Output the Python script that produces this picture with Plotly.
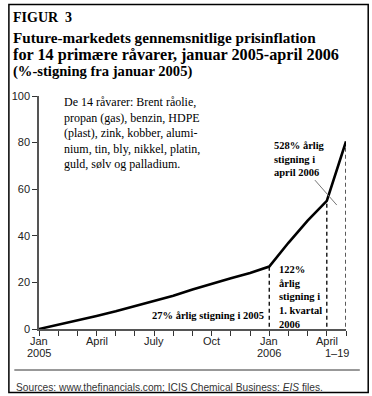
import plotly.graph_objects as go

# ---- data (months since Jan 2005) ----
months = [0, 1, 2, 3, 4, 5, 6, 7, 8, 9, 10, 11, 12, 13, 14, 15, 16]
values = [0, 1.8, 3.8, 5.6, 7.6, 9.8, 12.0, 14.3, 17.0, 19.5, 21.8, 24.0, 26.8, 37.0, 46.5, 55.0, 80.5]
marker_months = [12, 15, 16]          # dashed reference lines
tick_months = list(range(0, 17))
label_months = [0, 3, 6, 9, 12, 15]
label_top = ["Jan", "April", "July", "Oct", "Jan", "April"]
label_bottom = ["2005", "", "", "", "2006", ""]
y_ticks = [0, 20, 40, 60, 80, 100]

W, H = 372, 396
L, R, T, B = 35, 26, 96, 67
PW, PH = W - L - R, H - T - B

def px(x):
    return (x - L) / PW

def py(y):
    return (H - B - y) / PH

SERIF = "Liberation Serif"
SANS = "Liberation Sans"

fig = go.Figure()
fig.add_trace(go.Scatter(x=months, y=values, mode="lines",
                         line=dict(color="#000", width=2.6),
                         cliponaxis=False, hoverinfo="skip"))

shapes = []
for m in marker_months:
    v = values[months.index(m)]
    shapes.append(dict(type="line", xref="x", yref="y", x0=m, x1=m, y0=-2, y1=v,
                       line=dict(color="#000", width=1.3, dash="4px,3px")))
# pointer line for April annotation
ptr_x = [14.38, 15.52]
ptr_y = [63.9, 53.2]
shapes.append(dict(type="line", xref="x", yref="y", x0=ptr_x[0], x1=ptr_x[1],
                   y0=ptr_y[0], y1=ptr_y[1], line=dict(color="#777", width=1)))
# outer frame
shapes.append(dict(type="rect", xref="paper", yref="paper", x0=px(4.5), x1=px(368.5),
                   y0=py(392.5), y1=py(4.5), line=dict(color="#000", width=1.5)))
# separator above sources
shapes.append(dict(type="line", xref="paper", yref="paper", x0=px(10), x1=px(360),
                   y0=py(370), y1=py(370), line=dict(color="#333", width=1)))

ann = []
def text(x, y, s, size, family=SERIF, anchor="left", color="#000"):
    ann.append(dict(xref="paper", yref="paper", x=px(x), y=py(y), text=s,
                    showarrow=False, xanchor=anchor, yanchor="middle", align=anchor,
                    font=dict(family=family, size=size, color=color)))

text(7, 17, "<b>FIGUR  3</b>", 14)
text(7, 37, "<b>Future-markedets gennemsnitlige prisinflation</b>", 15.2)
text(7, 55, "<b>for 14 primære råvarer, januar 2005-april 2006</b>", 16.2)
text(7, 72, "<b>(%-stigning fra januar 2005)</b>", 14.6)

ann.append(dict(xref="paper", yref="paper", x=px(58), y=py(93), text=
                "De 14 råvarer: Brent råolie,<br>propan (gas), benzin, HDPE<br>(plast), zink, kobber, alumi-<br>nium, tin, bly, nikkel, platin,<br>guld, sølv og palladium.",
                showarrow=False, xanchor="left", yanchor="top", align="left",
                font=dict(family=SERIF, size=12, color="#000")))

text(206, 315, "<b>27% årlig stigning i 2005</b>", 10.5, anchor="center")
ann.append(dict(xref="paper", yref="paper", x=px(276), y=py(262), text=
                "<b>122%<br>årlig<br>stigning i<br>1. kvartal<br>2006</b>",
                showarrow=False, xanchor="left", yanchor="top", align="left",
                font=dict(family=SERIF, size=10.5, color="#000")))
ann.append(dict(xref="paper", yref="paper", x=px(271), y=py(138), text=
                "<b>528% årlig<br>stigning i<br>april 2006</b>",
                showarrow=False, xanchor="left", yanchor="top", align="left",
                font=dict(family=SERIF, size=10.5, color="#000")))

# x axis labels (two rows)
for m, t1, t2 in zip(label_months, label_top, label_bottom):
    ann.append(dict(xref="x", yref="paper", x=m, y=py(341), text=t1, showarrow=False,
                    xanchor="center", yanchor="middle",
                    font=dict(family=SANS, size=11, color="#222")))
    if t2:
        ann.append(dict(xref="x", yref="paper", x=m, y=py(353), text=t2, showarrow=False,
                        xanchor="center", yanchor="middle",
                        font=dict(family=SANS, size=11, color="#222")))
text(337, 353, "1–19", 11, family=SANS, anchor="center", color="#222")
text(10, 387, "Sources: www.thefinancials.com; ICIS Chemical Business: <i>EIS</i> files.",
     10.2, family=SANS, color="#333")

fig.update_layout(
    width=W, height=H, margin=dict(l=L, r=R, t=T, b=B),
    paper_bgcolor="#fff", plot_bgcolor="#fff", showlegend=False,
    shapes=shapes, annotations=ann,
    xaxis=dict(range=[0, 16], showgrid=False, zeroline=False, showline=True,
               linecolor="#555", linewidth=1.5, ticks="outside", ticklen=5,
               tickcolor="#333", tickwidth=1.2,
               tickvals=tick_months, showticklabels=False),
    yaxis=dict(range=[0, 100], showgrid=False, zeroline=False, showline=True,
               linecolor="#555", linewidth=1.5, ticks="outside", ticklen=5,
               tickcolor="#333", tickwidth=1.2, tickvals=y_ticks,
               tickfont=dict(family=SANS, size=11, color="#222")),
)
fig.write_html("out.html", config={"displayModeBar": False},
               post_script="document.body.style.margin='0';document.body.style.overflow='hidden';")
